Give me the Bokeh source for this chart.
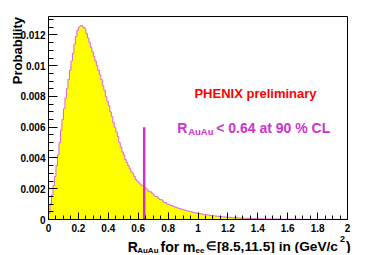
import math
from bokeh.plotting import figure
from bokeh.models import Range1d, FixedTicker, Label
from bokeh.embed import file_html
from bokeh.resources import INLINE

# ---------------- data ----------------
bin_width = 0.01
x_min, x_max = 0.0, 2.0
y_max = 0.0132
prob = [
    # 0.00 - 0.50
    0.0004, 0.0010, 0.0016, 0.0022, 0.0028, 0.0035, 0.0042, 0.0050, 0.0058, 0.0065,
    0.0072, 0.0079, 0.0085, 0.0091, 0.0097, 0.0103, 0.0108, 0.0114, 0.0119, 0.0123,
    0.0125, 0.0126, 0.0126, 0.0125, 0.0124, 0.0121, 0.0118, 0.0115, 0.0112, 0.0109,
    0.0106, 0.0103, 0.0100, 0.0097, 0.0094, 0.0091, 0.0087, 0.0084, 0.0080, 0.0077,
    0.0074, 0.0070, 0.0067, 0.0063, 0.0060, 0.0057, 0.0054, 0.0050, 0.0047, 0.0044,
    # 0.50 - 1.00
    0.0042, 0.0039, 0.0037, 0.0035, 0.0033, 0.0031, 0.0030, 0.0028, 0.0026, 0.0025,
    0.0024, 0.0023, 0.0022, 0.0022, 0.0021, 0.0020, 0.0019, 0.0018, 0.0018, 0.0017,
    0.0016, 0.0015, 0.0015, 0.0014, 0.0013, 0.0013, 0.0012, 0.0011, 0.0011, 0.0010,
    0.00098, 0.00094, 0.00090, 0.00086, 0.00082, 0.00078, 0.00075, 0.00072, 0.00069, 0.00066,
    0.00063, 0.00060, 0.00057, 0.00055, 0.00052, 0.00050, 0.00048, 0.00045, 0.00043, 0.00041,
    # 1.00 - 1.50
    0.00039, 0.00037, 0.00036, 0.00034, 0.00033, 0.00031, 0.00030, 0.00028, 0.00027, 0.00026,
    0.00024, 0.00023, 0.00022, 0.00021, 0.00020, 0.00019, 0.00018, 0.00017, 0.00016, 0.00015,
    0.00014, 0.00014, 0.00013, 0.00012, 0.00012, 0.00011, 0.00011, 0.00010, 0.00010, 0.00009,
    0.00009, 0.00008, 0.00008, 0.00007, 0.00007, 0.00007, 0.00006, 0.00006, 0.00006, 0.00005,
    0.00005, 0.00005, 0.00005, 0.00004, 0.00004, 0.00004, 0.00004, 0.00003, 0.00003, 0.00003,
    # 1.50 - 2.00
    0.00003, 0.00003, 0.00003, 0.00003, 0.00003, 0.00002, 0.00002, 0.00002, 0.00002, 0.00002,
    0.00002, 0.00002, 0.00002, 0.00002, 0.00002, 0.00002, 0.00002, 0.00002, 0.00002, 0.00002,
    0.00001, 0.00001, 0.00001, 0.00001, 0.00001, 0.00001, 0.00001, 0.00001, 0.00001, 0.00001,
    0.00001, 0.00001, 0.00001, 0.00001, 0.00001, 0.00001, 0.00001, 0.00001, 0.00001, 0.00001,
    0.00001, 0.00001, 0.00001, 0.00001, 0.00001, 0.00001, 0.00001, 0.00001, 0.00001, 0.00001,
]
limit_value = 0.64
limit_line_top = 0.006
x_ticks = [0, 0.2, 0.4, 0.6, 0.8, 1.0, 1.2, 1.4, 1.6, 1.8, 2.0]
x_tick_labels = ["0", "0.2", "0.4", "0.6", "0.8", "1", "1.2", "1.4", "1.6", "1.8", "2"]
y_ticks = [0, 0.002, 0.004, 0.006, 0.008, 0.010, 0.012]
y_tick_labels = ["0", "0.002", "0.004", "0.006", "0.008", "0.01", "0.012"]

# ---------------- layout ----------------
FONT = "Liberation Sans"
W, H = 372, 253
FL, FT, FW, FH = 48, 16, 299, 203  # plot box in canvas pixels
MAGENTA = "#cc33cc"

def dx(px):
    return x_min + (px - FL) / FW * (x_max - x_min)

def dy(py):
    return (FT + FH - py) / FH * y_max

p = figure(width=W, height=H, output_backend="svg", toolbar_location=None, title=None,
           x_range=Range1d(dx(0), dx(W)), y_range=Range1d(dy(H), dy(0)),
           min_border=0)
p.xgrid.visible = False
p.ygrid.visible = False
p.outline_line_color = None
p.background_fill_color = "white"
p.border_fill_color = "white"

# histogram as one stepped polygon
hx, hy = [x_min], [0.0]
for i, v in enumerate(prob):
    lo = x_min + i * bin_width
    hx += [lo, lo + bin_width]
    hy += [v, v]
hx.append(hx[-1])
hy.append(0.0)
p.patch(x=hx, y=hy, fill_color="#ffff00", line_color=None)
p.line(x=hx[1:-1], y=hy[1:-1], line_color="#e060e0", line_width=1)
p.segment(x0=[limit_value], y0=[0], x1=[limit_value], y1=[limit_line_top],
          line_color=MAGENTA, line_width=2.5)

# frame box (top and right edges)
p.line(x=[x_min, x_max, x_max], y=[y_max, y_max, 0], line_color="black", line_width=1)

# axes, fixed at the box edges
minor_x = [round(i * 0.05, 3) for i in range(41)]
minor_y = [round(i * 0.0005, 5) for i in range(27)]
p.xaxis.fixed_location = 0
p.yaxis.fixed_location = x_min
p.xaxis.bounds = (x_min, x_max)
p.yaxis.bounds = (0, y_max)
p.xaxis.ticker = FixedTicker(ticks=x_ticks, minor_ticks=minor_x)
p.yaxis.ticker = FixedTicker(ticks=y_ticks, minor_ticks=minor_y)
p.xaxis.major_label_overrides = dict(zip(x_ticks, x_tick_labels))
p.yaxis.major_label_overrides = dict(zip(y_ticks, y_tick_labels))
for ax, mj, mn in ((p.xaxis, 7, 4), (p.yaxis, 9, 5)):
    ax.major_tick_in = mj
    ax.major_tick_out = 0
    ax.minor_tick_in = mn
    ax.minor_tick_out = 0
    ax.major_label_text_font = FONT
    ax.major_label_text_font_style = "bold"
    ax.major_label_text_font_size = "10px"
    ax.major_label_text_color = "black"
    ax.axis_line_color = "black"
    ax.major_tick_line_color = "black"
    ax.minor_tick_line_color = "black"
p.xaxis.major_label_standoff = 4
p.yaxis.major_label_standoff = 3

def lab(text, px, py, size, color="black", align="left", angle=0.0):
    p.add_layout(Label(x=dx(px), y=dy(py), text=text, text_font=FONT, text_font_style="bold",
                       text_font_size=f"{size}px", text_color=color, text_align=align,
                       text_baseline="alphabetic", angle=angle))

# y-axis title
lab("Probability", 16.5, 16.5, 13, angle=math.pi / 2, align="right")
# x-axis title
lab("R", 127.3, 246, 14)
lab("AuAu", 136.7, 249.5, 8)
lab("for m", 160, 246, 14)
lab("ee", 195, 249.5, 8)
lab("\u2208", 205.5, 245.5, 11.5)
lab("[8.5,11.5] in (GeV/c", 216.5, 246, 13.7)
lab("2", 339.5, 238.5, 9)
lab(")", 345.5, 246, 14)
# annotations
lab("PHENIX preliminary", 255, 93.3, 13, color="#ff0000", align="center")
lab("R", 176.7, 127.7, 14, color=MAGENTA)
lab("AuAu", 187.7, 131, 9.5, color=MAGENTA)
lab("< 0.64 at 90 % CL", 215.7, 127.7, 14, color=MAGENTA)

open("out.html", "w").write(file_html(p, INLINE))
